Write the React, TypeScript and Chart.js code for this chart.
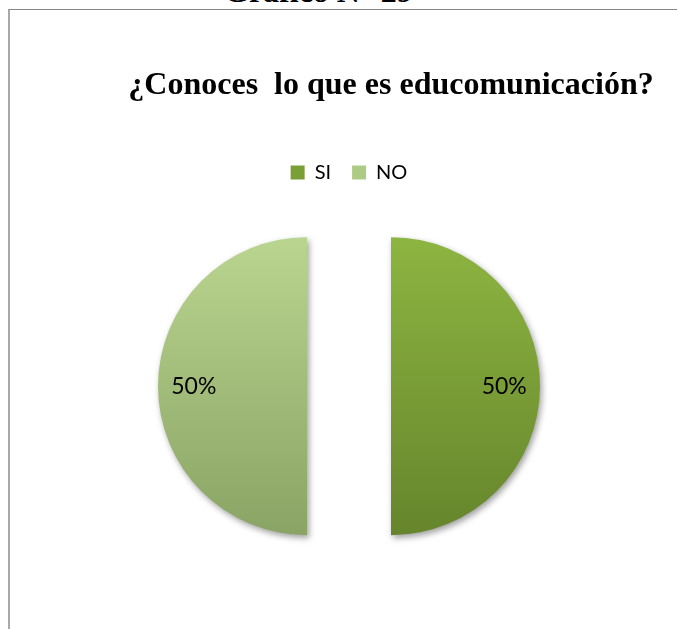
import React, { useEffect, useRef } from 'react';
import { Chart, registerables } from 'chart.js';

Chart.register(...registerables);

const CAPTION = 'Gráfico N° 29';
const TITLE = '¿Conoces  lo que es educomunicación?';
const CATEGORIES = ['SI', 'NO'];
const VALUES = [50, 50];
const TOP_COLORS = ['#8DB541', '#B9D58F'];
const BOTTOM_COLORS = ['#66852C', '#8AA465'];
const LEGEND_COLORS = ['#7A9F37', '#AECB85'];

const EXPLODE_PX = 42;
const RADIUS = 149;
const LABEL_POS = 0.76;
const TITLE_SHIFT = 42;

const SANS = 'Lato, "Open Sans", sans-serif';
const SERIF = '"Liberation Serif", "Times New Roman", serif';

export default function App() {
  const ref = useRef<HTMLCanvasElement | null>(null);

  useEffect(() => {
    if (!ref.current) return;
    const total = VALUES.reduce((a, b) => a + b, 0);

    const titleShift = {
      id: 'titleShift',
      afterLayout(chart: any) {
        const t = chart.titleBlock;
        if (t) {
          t.left += TITLE_SHIFT;
          t.right += TITLE_SHIFT;
        }
      },
    };

    // Draw each arc element exploded away from the centre, with a soft drop shadow
    const explodedSlices = {
      id: 'explodedSlices',
      beforeDatasetDraw(chart: any, args: any) {
        const ctx = chart.ctx;
        ctx.save();
        ctx.shadowColor = 'rgba(0,0,0,0.38)';
        ctx.shadowBlur = 6;
        ctx.shadowOffsetX = 2;
        ctx.shadowOffsetY = 3;
        args.meta.data.forEach((arc: any) => {
          const p = arc.getProps(['startAngle', 'endAngle'], true);
          const mid = (p.startAngle + p.endAngle) / 2;
          ctx.save();
          ctx.translate(Math.cos(mid) * EXPLODE_PX, Math.sin(mid) * EXPLODE_PX);
          arc.draw(ctx);
          ctx.restore();
        });
        ctx.restore();
        return false;
      },
    };

    const pctLabels = {
      id: 'pctLabels',
      afterDatasetsDraw(chart: any) {
        const ctx = chart.ctx;
        const meta = chart.getDatasetMeta(0);
        ctx.save();
        ctx.font = `23px ${SANS}`;
        ctx.fillStyle = '#000';
        ctx.textAlign = 'center';
        ctx.textBaseline = 'middle';
        meta.data.forEach((arc: any, i: number) => {
          const p = arc.getProps(['x', 'y', 'startAngle', 'endAngle', 'outerRadius'], true);
          const mid = (p.startAngle + p.endAngle) / 2;
          const r = p.outerRadius * LABEL_POS + EXPLODE_PX;
          const txt = Math.round((VALUES[i] / total) * 100) + '%';
          ctx.fillText(txt, p.x + Math.cos(mid) * r, p.y + Math.sin(mid) * r);
        });
        ctx.restore();
      },
    };

    const bg = (c: any) => {
      const i = c.dataIndex ?? 0;
      const chart = c.chart;
      const area = chart.chartArea;
      if (!area) return LEGEND_COLORS[i];
      const cy = (area.top + area.bottom) / 2;
      const g = chart.ctx.createLinearGradient(0, cy - RADIUS, 0, cy + RADIUS);
      g.addColorStop(0, TOP_COLORS[i]);
      g.addColorStop(1, BOTTOM_COLORS[i]);
      return g;
    };

    const chart = new Chart(ref.current, {
      type: 'pie',
      data: {
        labels: CATEGORIES,
        datasets: [
          {
            data: VALUES,
            backgroundColor: bg as any,
            borderWidth: 0,
            offset: 0,
            hoverOffset: 0,
          },
        ],
      },
      options: {
        animation: false,
        responsive: false,
        radius: RADIUS,
        layout: { padding: { left: 11, right: 0, top: 0, bottom: 49 } },
        plugins: {
          title: {
            display: true,
            text: TITLE,
            color: '#000',
            align: 'center',
            font: { family: SERIF, size: 32, weight: 'bold' },
            padding: { top: 57, bottom: 36 },
          },
          legend: {
            display: true,
            position: 'top',
            labels: {
              boxWidth: 14,
              boxHeight: 14,
              padding: 21,
              color: '#000',
              font: { family: SANS, size: 20 },
              generateLabels: (ch: any) => {
                const base = (Chart as any).overrides.pie.plugins.legend.labels.generateLabels(ch);
                base.forEach((it: any, i: number) => {
                  it.fillStyle = LEGEND_COLORS[i];
                  it.strokeStyle = LEGEND_COLORS[i];
                  it.lineWidth = 0;
                });
                return base;
              },
            },
          },
          tooltip: { enabled: false },
        },
      } as any,
      plugins: [titleShift, explodedSlices, pctLabels],
    });
    return () => chart.destroy();
  }, []);

  return (
    <div
      style={{
        position: 'fixed',
        left: 0,
        top: 0,
        width: 677,
        height: 629,
        overflow: 'hidden',
        background: '#fff',
      }}
    >
      <div
        style={{
          position: 'absolute',
          left: 224,
          top: -25,
          font: `bold 32px ${SERIF}`,
          lineHeight: '32px',
          whiteSpace: 'nowrap',
          color: '#000',
        }}
      >
        {CAPTION}
      </div>
      <div
        style={{
          position: 'absolute',
          left: 8,
          top: 9,
          width: 900,
          height: 900,
          borderLeft: '2px solid #a9a9a9',
          borderTop: '1px solid #868686',
        }}
      />
      <canvas
        ref={ref}
        width={667}
        height={619}
        style={{ position: 'absolute', left: 10, top: 10, width: 667, height: 619 }}
      />
    </div>
  );
}
